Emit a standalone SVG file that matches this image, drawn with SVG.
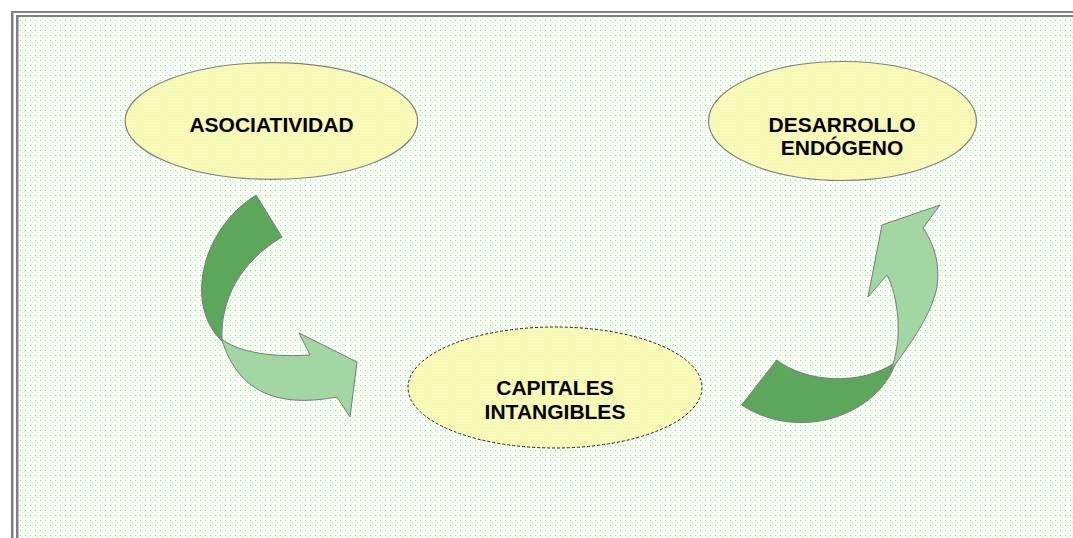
<svg xmlns="http://www.w3.org/2000/svg" width="1073" height="538" viewBox="0 0 1073 538">
<defs>
<pattern id="bgdots" width="5" height="5" patternUnits="userSpaceOnUse">
<rect width="5" height="5" fill="#f7fcf5"/>
<rect x="0" y="0" width="1" height="1" fill="#94e494"/>
<rect x="2" y="2" width="1" height="1" fill="#c8f2c8"/>
</pattern>
<pattern id="ydots" width="3" height="3" patternUnits="userSpaceOnUse">
<rect width="3" height="3" fill="#f7f8b2"/>
<rect x="0" y="0" width="1" height="1" fill="#fbfcd8"/>
</pattern>
<style>
.node ellipse{fill:url(#ydots);stroke:#808080;stroke-width:1.2}
.node ellipse.dash{stroke:#222;stroke-dasharray:3 2;stroke-width:1}
.node text{font-family:"Liberation Sans",Arial,sans-serif;font-weight:bold;font-size:21px;fill:#000;text-anchor:middle}
.dark{fill:#5ca75c;stroke:#7a7a7a;stroke-width:1}
.light{fill:#a2d6a2;stroke:#7a7a7a;stroke-width:1}
</style>
</defs>
<rect width="1073" height="538" fill="#ffffff"/>
<rect x="18" y="17" width="1055" height="521" fill="url(#bgdots)"/>
<g id="frame" fill="#808080">
<rect x="11" y="11" width="1062" height="2"/>
<rect x="11" y="11" width="2.5" height="527"/>
<rect x="16" y="15" width="1057" height="2"/>
<rect x="16" y="15" width="2.5" height="523"/>
</g>
<g id="connectors">
<path class="dark" d="M256,195 C198,232 186,308 222,341 C220,300 240,262 282,237 Z"/>
<path class="light" d="M221.7,339 C235,350 265,358 310,355 L299,333 L357,362 L350,417 L337,397 C288,406 240,400 221.7,339 Z"/>
<path class="dark" d="M776.7,360 C805,382 860,387 896,362 C878,415 800,443 741.7,405 Z"/>
<path class="light" d="M890,372 C905,350 930,320 937,287 C940,265 935,245 923,228 L940,205 L882,225 L868,297 L887,275 C898,295 904,340 890,372 Z"/>
</g>
<g id="asociatividad" class="node">
<ellipse cx="271.4" cy="121" rx="146.3" ry="58.3"/>
<text x="271.5" y="131.5">ASOCIATIVIDAD</text>
</g>
<g id="desarrollo" class="node">
<ellipse cx="842.5" cy="121" rx="134" ry="59.5"/>
<text x="842" y="131.5">DESARROLLO</text>
<text x="842" y="155">ENDÓGENO</text>
</g>
<g id="capitales" class="node">
<ellipse class="dash" cx="555" cy="387.5" rx="147" ry="60.5"/>
<text x="555" y="395">CAPITALES</text>
<text x="555" y="419">INTANGIBLES</text>
</g>
</svg>
